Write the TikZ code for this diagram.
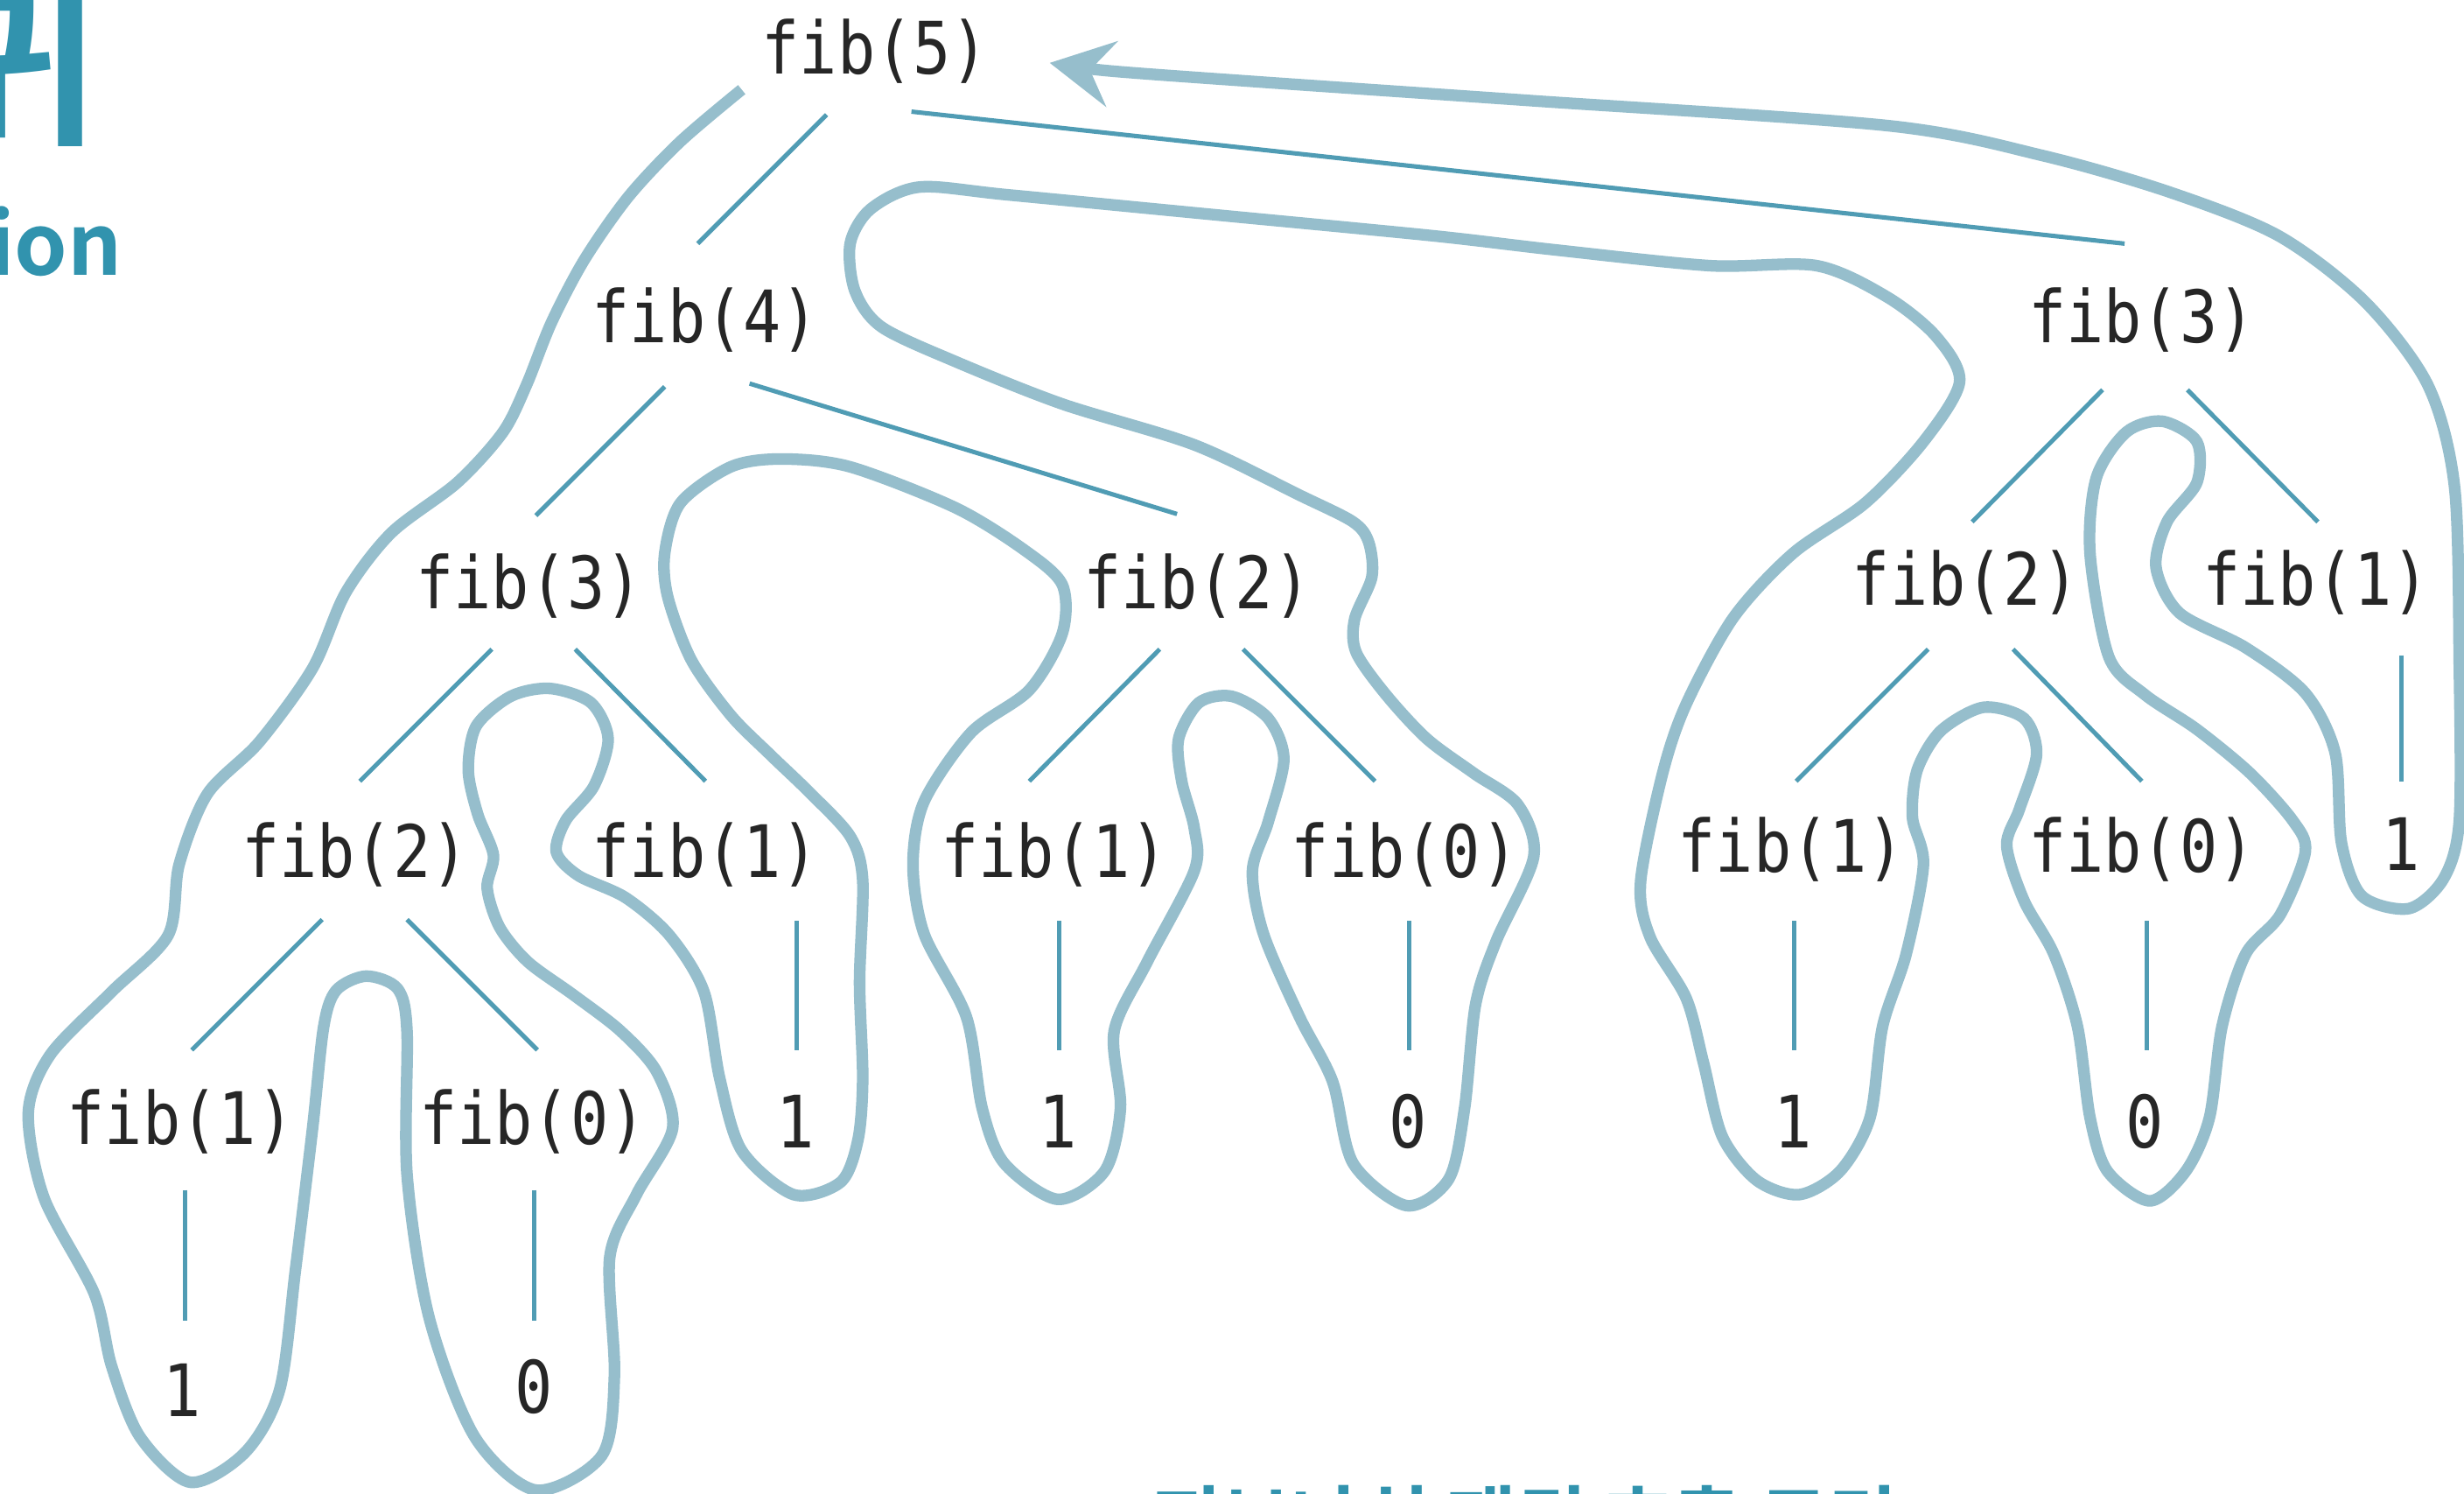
\documentclass[tikz,border=0pt]{standalone}
\usepackage{fontspec}
\usetikzlibrary{calc,arrows.meta}
\newfontfamily\monofont[FakeStretch=0.87]{DejaVu Sans Mono}
\newfontfamily\krfont{Noto Sans CJK KR Bold}
\definecolor{titleteal}{RGB}{49,147,174}
\definecolor{tourcol}{RGB}{150,190,204}
\definecolor{edgecol}{RGB}{80,156,180}
\definecolor{txt}{RGB}{38,38,38}
\tikzset{
  lbl/.style={font=\monofont\fontsize{23}{23}\selectfont, text=txt, inner sep=0pt, anchor=base},
  edgeline/.style={draw=edgecol, line width=1.4pt},
  tour/.style={draw=tourcol, line width=3.7pt, line join=round},
}
\begin{document}
\begin{tikzpicture}[x=0.5pt,y=-0.5pt]
\useasboundingbox (0,0) rectangle (1568,950);
\fill[white] (0,0) rectangle (1568,950);
\clip (0,0) rectangle (1568,950);

% titles
\node[font=\krfont\fontsize{57}{57}\selectfont, text=titleteal, anchor=base east, inner sep=0pt] (title) at (63,83) {재귀};
\node[font=\krfont\fontsize{27}{27}\selectfont, text=titleteal, anchor=base east, inner sep=0pt] (subtitle) at (78,175) {Recursion};
\node[font=\krfont\fontsize{24}{24}\selectfont, text=titleteal, anchor=base west, inner sep=0pt] (caption) at (733,985) {피보나치 재귀 호출 트리};

% nodes
\node[lbl] (f5) at (557,47) {fib(5)};
\node[lbl] (f4) at (449,218) {fib(4)};
\node[lbl] (f3r) at (1363,218) {fib(3)};
\node[lbl] (f3l) at (337,387) {fib(3)};
\node[lbl] (f2m) at (762,387) {fib(2)};
\node[lbl] (f2r) at (1251,385) {fib(2)};
\node[lbl] (f1r) at (1474,385) {fib(1)};
\node[lbl] (f2l) at (226,558) {fib(2)};
\node[lbl] (f1a) at (449,558) {fib(1)};
\node[lbl] (f1b) at (671,558) {fib(1)};
\node[lbl] (f0b) at (894,558) {fib(0)};
\node[lbl] (f1c) at (1140,555) {fib(1)};
\node[lbl] (f0c) at (1363,555) {fib(0)};
\node[lbl] (l1r) at (1528,554) {1};
\node[lbl] (f1d) at (115,728) {fib(1)};
\node[lbl] (f0d) at (339,728) {fib(0)};
\node[lbl] (l1a) at (506,730) {1};
\node[lbl] (l1b) at (673,730) {1};
\node[lbl] (l0b) at (896,730) {0};
\node[lbl] (l1c) at (1141,730) {1};
\node[lbl] (l0c) at (1365,730) {0};
\node[lbl] (l1d) at (116,901) {1};
\node[lbl] (l0d) at (340,899) {0};

% edges
\draw[edgeline] ($(f5.base)+(-31,26)$) -- ($(f4.base)+(-5,-63)$);
\draw[edgeline] ($(f5.base)+(23,24)$) -- ($(f3r.base)+(-11,-63)$);
\draw[edgeline] ($(f4.base)+(-26,28)$) -- ($(f3l.base)+(4,-59)$);
\draw[edgeline] ($(f4.base)+(28,26)$) -- ($(f2m.base)+(-13,-60)$);
\draw[edgeline] ($(f3l.base)+(-24,26)$) -- ($(f2l.base)+(3,-61)$);
\draw[edgeline] ($(f3l.base)+(29,26)$) -- ($(f1a.base)+(0,-61)$);
\draw[edgeline] ($(f2m.base)+(-24,26)$) -- ($(f1b.base)+(-16,-61)$);
\draw[edgeline] ($(f2m.base)+(29,26)$) -- ($(f0b.base)+(-19,-61)$);
\draw[edgeline] ($(f3r.base)+(-25,30)$) -- ($(f2r.base)+(4,-53)$);
\draw[edgeline] ($(f3r.base)+(29,30)$) -- ($(f1r.base)+(1,-53)$);
\draw[edgeline] ($(f2r.base)+(-24,28)$) -- ($(f1c.base)+(3,-58)$);
\draw[edgeline] ($(f2r.base)+(30,28)$) -- ($(f0c.base)+(0,-58)$);
\draw[edgeline] ($(f2l.base)+(-21,27)$) -- ($(f1d.base)+(7,-60)$);
\draw[edgeline] ($(f2l.base)+(33,27)$) -- ($(f0d.base)+(3,-60)$);
\draw[edgeline] ($(f1r.base)+(54,32)$) -- ($(l1r.base)+(0,-57)$);
\draw[edgeline] ($(f1a.base)+(58,28)$) -- ($(l1a.base)+(1,-62)$);
\draw[edgeline] ($(f1b.base)+(3,28)$) -- ($(l1b.base)+(1,-62)$);
\draw[edgeline] ($(f0b.base)+(3,28)$) -- ($(l0b.base)+(1,-62)$);
\draw[edgeline] ($(f1c.base)+(2,31)$) -- ($(l1c.base)+(1,-62)$);
\draw[edgeline] ($(f0c.base)+(3,31)$) -- ($(l0c.base)+(1,-62)$);
\draw[edgeline] ($(f1d.base)+(3,29)$) -- ($(l1d.base)+(2,-61)$);
\draw[edgeline] ($(f0d.base)+(1,29)$) -- ($(l0d.base)+(0,-59)$);

% traversal contour
\draw[tour, -{Stealth[length=20pt,width=21pt,inset=7pt]}] plot[smooth, tension=0.5] coordinates {
(472,57) (433,90) (400,125) (372,165) (351,205) (335,245) (320,275) (291,307) (249,339) (220,377) (199,425) (165,472) (132,505) (114,550) (107,595) (71,631) (32,671) (18,708) (28,762) (60,823) (71,869) (89,914) (121,943) (156,924) (178,884) (188,808) (199,717) (206,653) (214,630) (233,621) (253,629) (259,656) (259,747) (273,838) (302,914) (341,948) (383,926) (391,875) (388,800) (405,760) (428,718) (418,682) (395,656) (365,633) (336,612) (318,590) (310,565) (314,544) (304,518) (298,490)
(303,462) (325,443) (350,438) (376,447) (387,470) (378,500) (360,522) (354,542) (368,557) (398,571) (426,595) (448,631) (458,686) (472,732) (505,760) (535,752) (546,725) (549,686) (547,625) (549,560) (541,532) (515,504) (490,480) (465,455) (440,420) (425,380) (423,352) (433,320) (465,297) (497,292) (541,297) (608,323) (652,350) (676,372) (676,403) (655,439) (618,466) (588,510) (581,550) (588,594) (615,647) (625,705) (639,740) (673,763) (703,745) (713,705) (709,656) (730,612) (760,554) (760,527) (752,497) (750,470) (763,447) (784,443) (807,457) (817,483) (807,523) (797,554) (804,594) (827,647) (848,688) (861,740) (895,767) (922,750) (932,705) (939,639) (952,599) (976,545) (966,512) (938,492) (908,470) (882,442) (863,415) (862,394) (873,367) (871,345) (861,332) (827,315) (760,283) (676,257) (608,230) (561,208) (544,185) (541,155) (554,133) (585,119) (642,124) (777,137) (912,150) (990,159) (1088,169) (1156,169) (1201,189) (1232,214) (1247,243) (1224,281) (1187,320) (1141,352) (1103,393) (1073,448) (1058,492) (1044,561) (1050,596) (1073,635) (1084,676) (1096,723) (1118,751) (1145,760) (1171,745) (1190,711) (1198,653) (1213,607) (1224,550) (1217,520) (1220,490) (1235,465) (1262,450) (1288,457) (1296,480) (1285,515) (1277,538) (1288,573) (1307,607) (1322,653) (1330,711) (1341,745) (1368,764) (1391,745) (1406,711) (1414,653) (1429,607) (1451,582) (1467,542) (1459,522) (1432,492) (1398,464) (1365,442) (1342,418) (1330,352) (1334,304) (1353,275) (1376,268) (1398,281) (1398,307) (1379,332) (1372,361) (1387,390) (1429,412) (1467,441) (1486,479) (1490,536) (1503,570) (1533,578) (1555,559) (1565,522) (1565,423) (1562,310) (1545,245) (1505,192) (1450,150) (1380,122) (1300,99) (1202,80) (974,64) (800,52) (705,45) (668,40)};
\end{tikzpicture}
\end{document}
